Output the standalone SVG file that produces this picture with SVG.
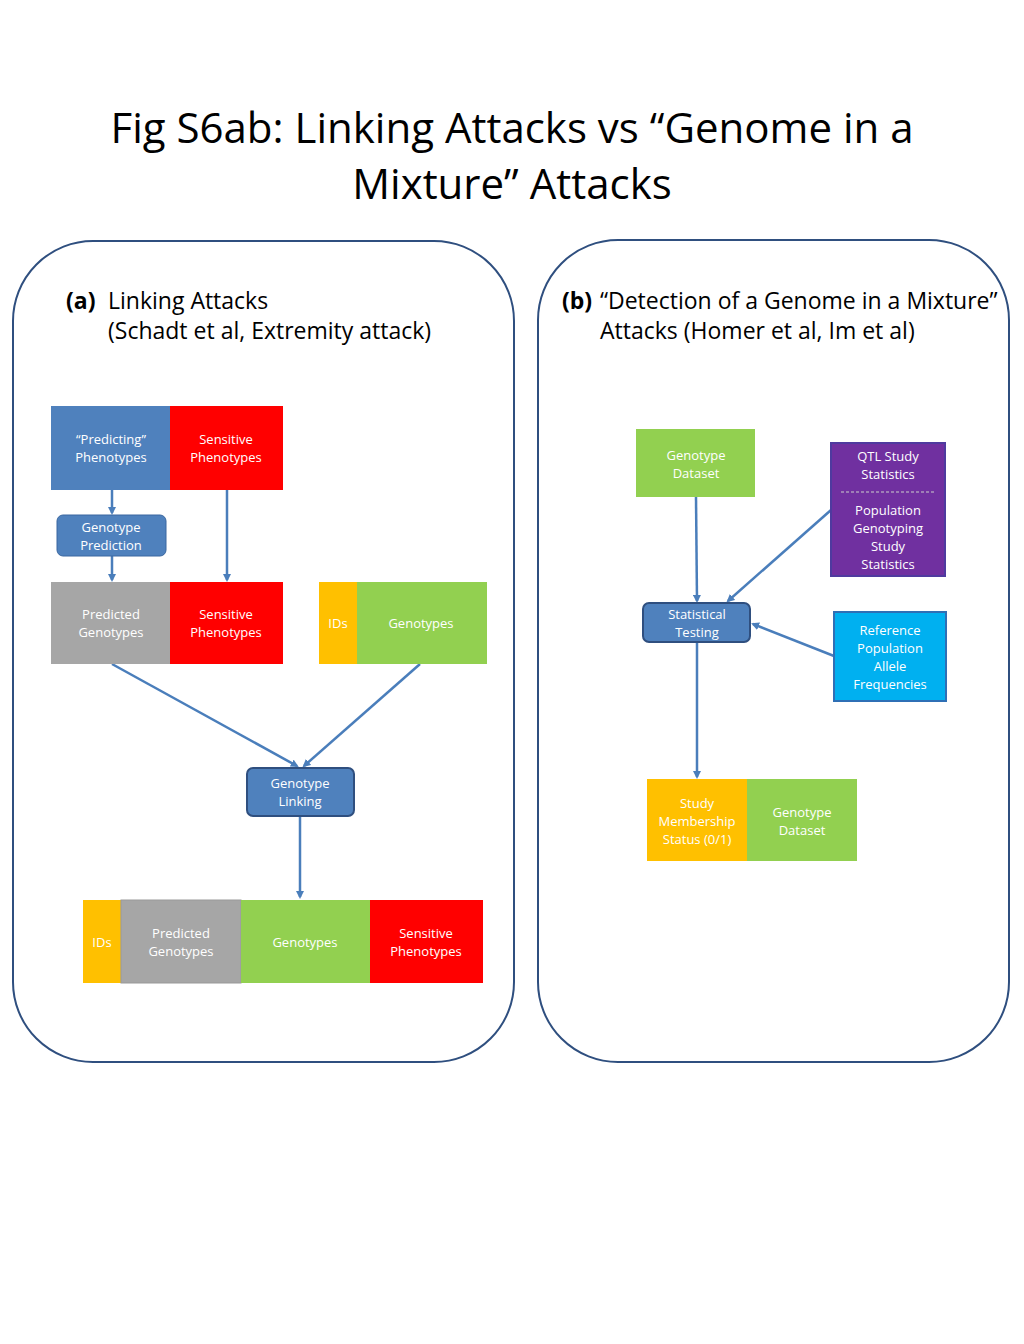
<svg xmlns="http://www.w3.org/2000/svg" width="1024" height="1344" viewBox="0 0 1024 1344">
<style>
text{font-family:"Open Sans","Liberation Sans",sans-serif;}
.t{fill:#fff;font-size:13px;text-anchor:middle}
.h{fill:#000;font-size:23px}
.c{stroke:#4a7ebb;stroke-width:2.5;fill:none;marker-end:url(#a)}
.p{fill:none;stroke:#2f4f7f;stroke-width:2}
</style>
<defs><marker id="a" markerWidth="8" markerHeight="8" refX="6" refY="4" orient="auto" markerUnits="userSpaceOnUse"><path d="M0,0L8,4L0,8Z" fill="#4a7ebb"/></marker></defs>
<rect width="1024" height="1344" fill="#fff"/>
<text x="512" y="143" font-size="42" text-anchor="middle">Fig S6ab: Linking Attacks vs “Genome in a</text>
<text x="512" y="199" font-size="42" text-anchor="middle">Mixture” Attacks</text>
<rect class="p" x="13" y="241" width="501" height="821" rx="80"/>
<rect class="p" x="538" y="240" width="471" height="822" rx="80"/>
<text class="h" x="66" y="309" font-weight="bold">(a)</text>
<text class="h" x="108" y="309">Linking Attacks</text>
<text class="h" x="108" y="339">(Schadt et al, Extremity attack)</text>
<text class="h" x="562" y="309" font-weight="bold">(b)</text>
<text class="h" x="600" y="309">“Detection of a Genome in a Mixture”</text>
<text class="h" x="600" y="339">Attacks (Homer et al, Im et al)</text>
<g id="connectors">
<line class="c" x1="112" y1="490" x2="112" y2="513"/>
<line class="c" x1="112" y1="556" x2="112" y2="580"/>
<line class="c" x1="227" y1="490" x2="227" y2="580"/>
<line class="c" x1="112" y1="664" x2="297" y2="766"/>
<line class="c" x1="420" y1="664" x2="304" y2="766"/>
<line class="c" x1="300" y1="817" x2="300" y2="897"/>
<line class="c" x1="696" y1="497" x2="697" y2="601"/>
<line class="c" x1="831" y1="510" x2="728" y2="601"/>
<line class="c" x1="834" y1="656" x2="753" y2="624"/>
<line class="c" x1="697" y1="643" x2="697" y2="777"/>
</g>
<g id="predicting"><rect x="51" y="406" width="119" height="84" fill="#4f81bd"/><text class="t" x="111" y="444">“Predicting”</text><text class="t" x="111" y="462">Phenotypes</text></g>
<g id="sens1"><rect x="170" y="406" width="113" height="84" fill="#ff0000"/><text class="t" x="226" y="444">Sensitive</text><text class="t" x="226" y="462">Phenotypes</text></g>
<g id="genopred"><rect x="57" y="515" width="109" height="41" rx="6" fill="#4f81bd" stroke="#3a67a0"/><text class="t" x="111" y="532">Genotype</text><text class="t" x="111" y="550">Prediction</text></g>
<g id="predgen1"><rect x="51" y="582" width="119" height="82" fill="#a6a6a6"/><text class="t" x="111" y="619">Predicted</text><text class="t" x="111" y="637">Genotypes</text></g>
<g id="sens2"><rect x="170" y="582" width="113" height="82" fill="#ff0000"/><text class="t" x="226" y="619">Sensitive</text><text class="t" x="226" y="637">Phenotypes</text></g>
<g id="ids1"><rect x="319" y="582" width="38" height="82" fill="#ffc000"/><text class="t" x="338" y="628">IDs</text></g>
<g id="geno1"><rect x="357" y="582" width="130" height="82" fill="#92d050"/><text class="t" x="421" y="628">Genotypes</text></g>
<g id="linking"><rect x="247" y="768" width="107" height="48" rx="6" fill="#4f81bd" stroke="#2f4f7f" stroke-width="2"/><text class="t" x="300" y="788">Genotype</text><text class="t" x="300" y="806">Linking</text></g>
<g id="ids2"><rect x="83" y="900" width="38" height="83" fill="#ffc000"/><text class="t" x="102" y="947">IDs</text></g>
<g id="predgen2"><rect x="121" y="900" width="120" height="83" fill="#a6a6a6" stroke="#999"/><text class="t" x="181" y="938">Predicted</text><text class="t" x="181" y="956">Genotypes</text></g>
<g id="geno2"><rect x="241" y="900" width="129" height="83" fill="#92d050"/><text class="t" x="305" y="947">Genotypes</text></g>
<g id="sens3"><rect x="370" y="900" width="113" height="83" fill="#ff0000"/><text class="t" x="426" y="938">Sensitive</text><text class="t" x="426" y="956">Phenotypes</text></g>
<g id="gdataset1"><rect x="636" y="429" width="119" height="68" fill="#92d050"/><text class="t" x="696" y="460">Genotype</text><text class="t" x="696" y="478">Dataset</text></g>
<g id="qtl"><rect x="831" y="443" width="114" height="133" fill="#7030a0" stroke="#4f3a9f" stroke-width="2"/><text class="t" x="888" y="461">QTL Study</text><text class="t" x="888" y="479">Statistics</text><line x1="841" y1="492" x2="936" y2="492" stroke="#ccc" stroke-dasharray="3,2"/><text class="t" x="888" y="515">Population</text><text class="t" x="888" y="533">Genotyping</text><text class="t" x="888" y="551">Study</text><text class="t" x="888" y="569">Statistics</text></g>
<g id="stat"><rect x="643" y="603" width="107" height="39" rx="6" fill="#4f81bd" stroke="#2f4f7f" stroke-width="2"/><text class="t" x="697" y="619">Statistical</text><text class="t" x="697" y="637">Testing</text></g>
<g id="ref"><rect x="834" y="612" width="112" height="89" fill="#00b0f0" stroke="#2f6fb5" stroke-width="2"/><text class="t" x="890" y="635">Reference</text><text class="t" x="890" y="653">Population</text><text class="t" x="890" y="671">Allele</text><text class="t" x="890" y="689">Frequencies</text></g>
<g id="membership"><rect x="647" y="779" width="100" height="82" fill="#ffc000"/><text class="t" x="697" y="808">Study</text><text class="t" x="697" y="826">Membership</text><text class="t" x="697" y="844">Status (0/1)</text></g>
<g id="gdataset2"><rect x="747" y="779" width="110" height="82" fill="#92d050"/><text class="t" x="802" y="817">Genotype</text><text class="t" x="802" y="835">Dataset</text></g>
</svg>
